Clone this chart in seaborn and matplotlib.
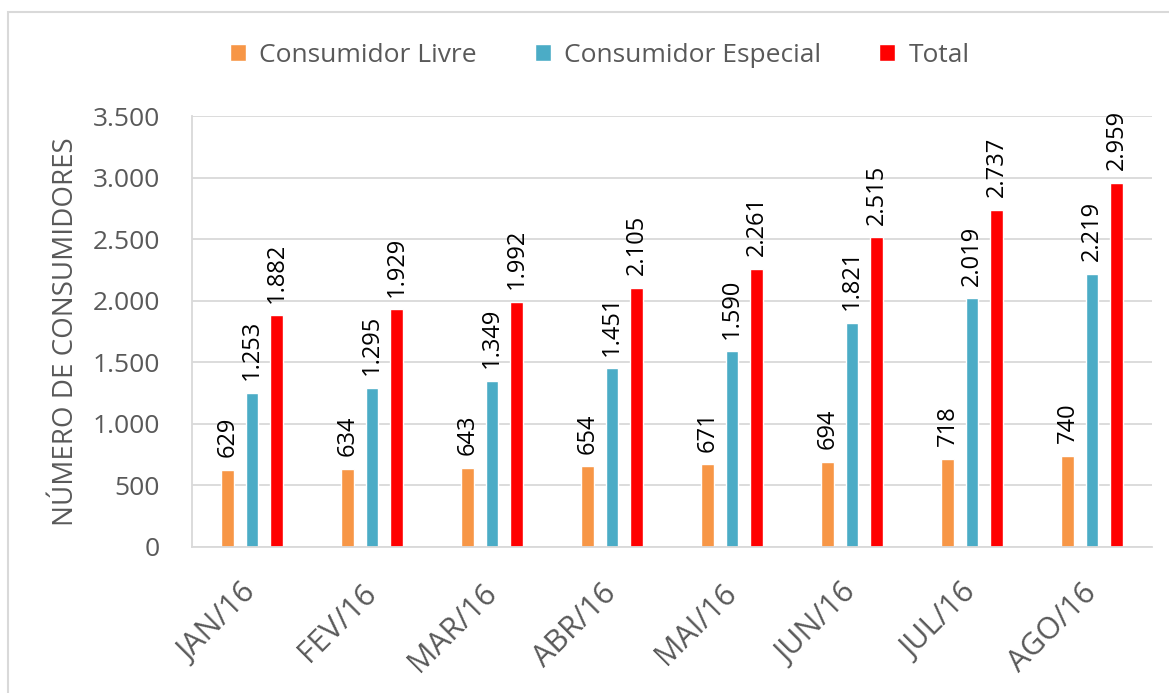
import pandas as pd
import seaborn as sns
import matplotlib.pyplot as plt
from matplotlib.patches import Rectangle

# ------------------- Data -------------------
months = ['JAN/16', 'FEV/16', 'MAR/16', 'ABR/16', 'MAI/16', 'JUN/16', 'JUL/16', 'AGO/16']
livre = [629, 634, 643, 654, 671, 694, 718, 740]
especial = [1253, 1295, 1349, 1451, 1590, 1821, 2019, 2219]
total = [1882, 1929, 1992, 2105, 2261, 2515, 2737, 2959]

series = ['Consumidor Livre', 'Consumidor Especial', 'Total']
colors = ['#F79646', '#4BACC6', '#FF0000']

df = pd.DataFrame({
    'Mes': months * 3,
    'Serie': [series[0]] * 8 + [series[1]] * 8 + [series[2]] * 8,
    'Valor': livre + especial + total,
})

# ------------------- Plot -------------------
sns.set_style('white')
plt.rcParams['font.family'] = ['Open Sans', 'DejaVu Sans']
gray = '#595959'
light = '#D9D9D9'

fig = plt.figure(figsize=(11.69, 6.93), dpi=100)
ax = fig.add_axes([192 / 1169, 1 - 547 / 693, 960 / 1169, (547 - 116) / 693])

sns.barplot(data=df, x='Mes', y='Valor', hue='Serie', hue_order=series,
            palette=colors, saturation=1, width=0.61, gap=0.49, ax=ax, legend=True)

for cont in ax.containers:
    ax.bar_label(cont, labels=[f'{int(v):,}'.replace(',', '.') for v in cont.datavalues],
                 rotation=90, padding=9, fontsize=17, color='black')

ax.set_xlim(-0.5, 7.5)
ax.set_ylim(0, 3500)
ax.set_yticks(range(0, 3501, 500))
ax.set_yticklabels([f'{v:,}'.replace(',', '.') for v in range(0, 3501, 500)])
ax.yaxis.grid(True, color=light, linewidth=1.3)
ax.set_axisbelow(True)

ax.set_xlabel('')
ax.set_ylabel('NÚMERO DE CONSUMIDORES', fontsize=20, color=gray, labelpad=9)

ax.set_xticks(range(8))
ax.set_xticklabels(months, rotation=45, ha='right', va='center', rotation_mode='anchor')
ax.set_xticks([i - 0.5 for i in range(9)], minor=True)
ax.tick_params(axis='x', which='major', length=0, labelsize=22, labelcolor=gray, pad=30)
ax.tick_params(axis='x', which='minor', length=7, width=1.3, color=light, direction='out')
ax.tick_params(axis='y', length=7, width=1.3, color=light, labelsize=19, labelcolor=gray, pad=16)

for s in ['top', 'right']:
    ax.spines[s].set_visible(False)
for s in ['left', 'bottom']:
    ax.spines[s].set_color(light)
    ax.spines[s].set_linewidth(1.3)

ax.legend(loc='center', bbox_to_anchor=(0.5 - 72 / 960, 1 + 61 / 431), ncol=3,
          frameon=False, fontsize=19, labelcolor=gray, handlelength=0.6, handleheight=0.6,
          handletextpad=0.5, columnspacing=2.2)

fig.patches.append(Rectangle((8 / 1169, -0.1), 1.2, 1.1 - 12 / 693,
                             transform=fig.transFigure, fill=False,
                             edgecolor=light, linewidth=1.5))

plt.savefig('out.png', dpi=100)
